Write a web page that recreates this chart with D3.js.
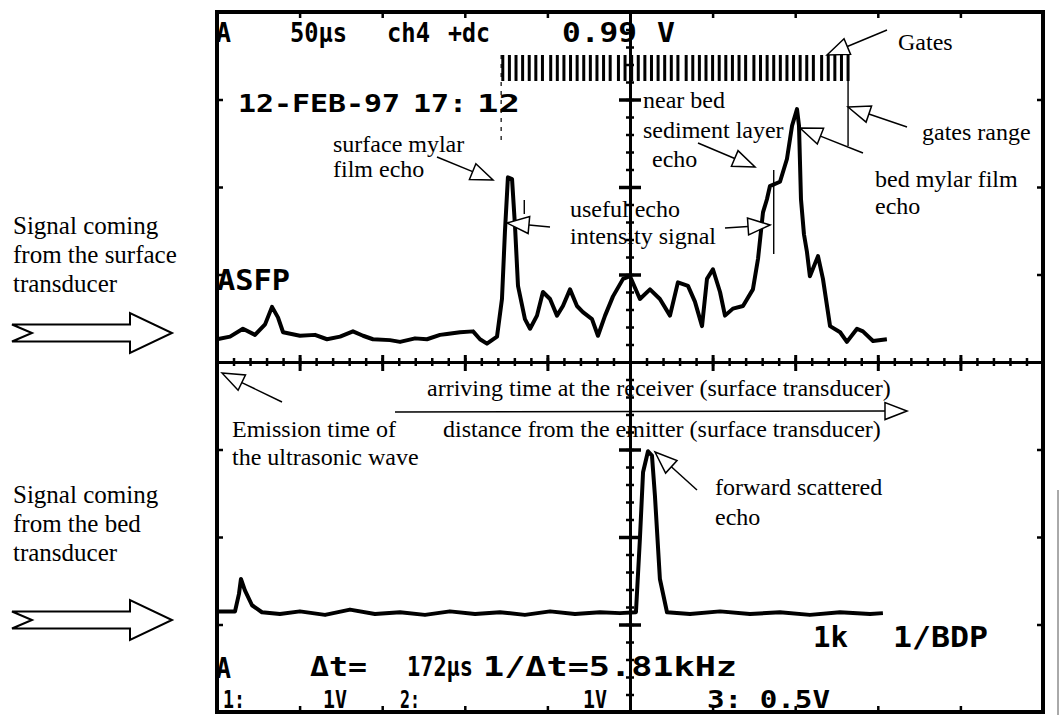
<!DOCTYPE html>
<html>
<head>
<meta charset="utf-8">
<script src="https://cdn.jsdelivr.net/npm/d3@7"></script>
<style>
  body { margin: 0; background: #fff; }
  svg { display: block; }
</style>
</head>
<body>
<svg id="scope" width="1060" height="715"></svg>
<script>
// ---- Screen: 10 horizontal divisions of 50 µs, 8 vertical divisions ----
const timeDomain = [0, 500];          // µs
const divDomain = [-4, 4];            // vertical divisions
const timePerDiv = 50;

// ---- Surface transducer trace (upper), time in µs, amplitude in divisions ----
const surfaceTime = [0, 7.9, 15.7, 23.0, 29.1, 33.3, 36.9, 40.0, 50.2, 59.3,
  66.6, 74.5, 82.3, 88.4, 94.4, 104.7, 110.8, 119.9, 127.1, 135.0,
  139.2, 147.1, 155.0, 159.2, 163.4, 169.5, 172.5, 174.3, 176.1, 178.6,
  180.4, 182.2, 186.4, 189.5, 193.7, 197.3, 201.6, 205.8, 209.4, 213.7,
  217.9, 221.5, 227.0, 230.6, 234.9, 239.7, 245.8, 250.0, 256.0, 262.1,
  268.1, 274.2, 279.0, 285.1, 289.3, 293.6, 296.6, 300.2, 304.5, 307.5,
  312.3, 318.4, 324.4, 327.5, 330.5, 332.9, 334.7, 340.8, 345.0, 348.1,
  351.1, 352.3, 353.5, 355.3, 357.1, 358.9, 363.8, 366.8, 371.1, 377.2,
  381.3, 387.4, 391.0, 397.1, 405.5];
const surfaceSignal = [0.26, 0.29, 0.38, 0.31, 0.43, 0.63, 0.51, 0.34, 0.30, 0.31,
  0.26, 0.29, 0.35, 0.30, 0.26, 0.25, 0.23, 0.27, 0.26, 0.31,
  0.32, 0.34, 0.35, 0.26, 0.21, 0.29, 0.72, 1.49, 2.11, 2.09,
  1.55, 0.87, 0.49, 0.38, 0.53, 0.80, 0.72, 0.53, 0.64, 0.83,
  0.64, 0.57, 0.49, 0.30, 0.53, 0.75, 0.95, 0.98, 0.72, 0.83,
  0.72, 0.53, 0.91, 0.87, 0.69, 0.41, 0.95, 1.06, 0.80, 0.53,
  0.61, 0.64, 0.83, 1.18, 1.71, 1.86, 2.01, 2.06, 2.32, 2.70,
  2.89, 2.70, 1.86, 1.46, 1.26, 0.98, 1.21, 0.95, 0.41, 0.34,
  0.23, 0.38, 0.35, 0.24, 0.26];

// ---- Bed transducer trace (lower) ----
const bedTime = [0, 10.9, 13.3, 14.5, 16.9, 21.2, 27.2, 38.1, 50.2, 65.4,
  80.5, 95.6, 110.8, 125.9, 141.0, 156.2, 171.3, 186.4, 201.6, 216.7,
  231.8, 243.9, 253.6, 256.0, 257.9, 260.9, 263.3, 265.1, 268.1, 272.4,
  286.3, 304.5, 322.6, 340.8, 358.9, 377.1, 395.3, 403.1];
const bedSignal = [-2.85, -2.85, -2.65, -2.48, -2.61, -2.78, -2.86, -2.88, -2.85, -2.89,
  -2.83, -2.88, -2.86, -2.89, -2.85, -2.88, -2.86, -2.89, -2.85, -2.88,
  -2.86, -2.87, -2.86, -2.02, -1.26, -1.02, -1.07, -1.53, -2.48, -2.86,
  -2.88, -2.85, -2.88, -2.86, -2.89, -2.86, -2.88, -2.87];

// ---- Gate positions (µs) and cursors ----
const gateTimes = [173, 177, 181, 185, 189, 193, 197, 202, 206, 210, 214, 218, 222,
  226, 230, 234, 238, 243, 247, 251, 255, 259, 263, 267, 271, 275, 279, 284,
  288, 292, 296, 300, 304, 308, 312, 316, 320, 325, 329, 333, 337, 341, 345,
  349, 353, 357, 361, 366, 370, 374, 378, 382];
const cursorTime = 172;        // Δt cursor
const gatesRangeEnd = 382;     // last gate
const usefulSignalEnd = 337;   // end of the useful echo window
const usefulSignalMark = 186;  // small mark after the surface echo

// ---- Scales ----
const x = d3.scaleLinear().domain(timeDomain).range([217, 1043]);
const y = d3.scaleLinear().domain(divDomain).range([712, 12]);

const divTimes = d3.range(timeDomain[0], timeDomain[1] + 1, timePerDiv);
const innerDivTimes = divTimes.filter(t => t > timeDomain[0] && t < timeDomain[1]);
const divLevels = d3.range(divDomain[0], divDomain[1] + 1, 1);
const innerDivLevels = divLevels.filter(v => v > divDomain[0] && v < divDomain[1]);
const minorTimes = x.ticks(50);
const minorLevels = y.ticks(40);

const svg = d3.select("#scope");
const INK = "#000";

// ---- Graticule: centre cross with minor and major ticks ----
const xMid = x((timeDomain[0] + timeDomain[1]) / 2);
const yMid = y(0);

function styleAxis(g, width, showDomain) {
  g.selectAll("text").remove();
  g.selectAll(".tick line").attr("stroke", INK).attr("stroke-width", width);
  g.select(".domain").attr("stroke", showDomain ? INK : "none").attr("stroke-width", 3);
}

const grat = svg.append("g");
// horizontal centre line
grat.append("g").attr("transform", `translate(0,${yMid})`)
  .call(d3.axisBottom(x).tickValues(minorTimes).tickSize(4).tickSizeOuter(0).tickFormat(""))
  .call(g => styleAxis(g, 2.5, true));
grat.append("g").attr("transform", `translate(0,${yMid})`)
  .call(d3.axisTop(x).tickValues(minorTimes).tickSize(4).tickSizeOuter(0).tickFormat(""))
  .call(g => styleAxis(g, 2.5, false));
grat.append("g").attr("transform", `translate(0,${yMid})`)
  .call(d3.axisBottom(x).tickValues(innerDivTimes).tickSize(9).tickSizeOuter(0).tickFormat(""))
  .call(g => styleAxis(g, 3, false));
grat.append("g").attr("transform", `translate(0,${yMid})`)
  .call(d3.axisTop(x).tickValues(innerDivTimes).tickSize(7).tickSizeOuter(0).tickFormat(""))
  .call(g => styleAxis(g, 3, false));
// vertical centre line
grat.append("g").attr("transform", `translate(${xMid},0)`)
  .call(d3.axisLeft(y).tickValues(minorLevels).tickSize(4).tickSizeOuter(0).tickFormat(""))
  .call(g => styleAxis(g, 2.5, true));
grat.append("g").attr("transform", `translate(${xMid},0)`)
  .call(d3.axisRight(y).tickValues(minorLevels).tickSize(4).tickSizeOuter(0).tickFormat(""))
  .call(g => styleAxis(g, 2.5, false));
grat.append("g").attr("transform", `translate(${xMid},0)`)
  .call(d3.axisLeft(y).tickValues(innerDivLevels.filter(v => v !== 0)).tickSize(11).tickSizeOuter(0).tickFormat(""))
  .call(g => styleAxis(g, 3.5, false));
grat.append("g").attr("transform", `translate(${xMid},0)`)
  .call(d3.axisRight(y).tickValues(innerDivLevels.filter(v => v !== 0)).tickSize(11).tickSizeOuter(0).tickFormat(""))
  .call(g => styleAxis(g, 3.5, false));

// frame ticks at each division
grat.append("g").attr("transform", `translate(0,${y(divDomain[1])})`)
  .call(d3.axisBottom(x).tickValues(innerDivTimes).tickSize(6).tickSizeOuter(0).tickFormat(""))
  .call(g => styleAxis(g, 2.5, false));
grat.append("g").attr("transform", `translate(0,${y(divDomain[0])})`)
  .call(d3.axisTop(x).tickValues(innerDivTimes).tickSize(6).tickSizeOuter(0).tickFormat(""))
  .call(g => styleAxis(g, 2.5, false));
grat.append("g").attr("transform", `translate(${x(timeDomain[0])},0)`)
  .call(d3.axisRight(y).tickValues(innerDivLevels).tickSize(6).tickSizeOuter(0).tickFormat(""))
  .call(g => styleAxis(g, 2.5, false));
grat.append("g").attr("transform", `translate(${x(timeDomain[1])},0)`)
  .call(d3.axisLeft(y).tickValues(innerDivLevels).tickSize(6).tickSizeOuter(0).tickFormat(""))
  .call(g => styleAxis(g, 2.5, false));

// ---- Oscilloscope read-out text ----
const scopeFont = "'DejaVu Sans Mono', 'Liberation Mono', monospace";
const readout = [
  { s: "A", x: 216, y: 42, w: 15, fs: 27 },
  { s: "50µs", x: 290, y: 42, w: 57, fs: 27 },
  { s: "ch4", x: 387, y: 42, w: 43, fs: 27 },
  { s: "+dc", x: 448, y: 42, w: 42, fs: 27 },
  { s: "0.99", x: 562, y: 42, w: 75, fs: 27 },
  { s: "V", x: 657, y: 42, w: 18, fs: 27 },
  { s: "12-FEB-97", x: 238, y: 112, w: 162, fs: 25 },
  { s: "17:", x: 413, y: 112, w: 54, fs: 25 },
  { s: "12", x: 477, y: 112, w: 43, fs: 25 },
  { s: "ASFP", x: 217, y: 290, w: 73, fs: 29 },
  { s: "1k", x: 813, y: 647, w: 35, fs: 29 },
  { s: "1/BDP", x: 893, y: 647, w: 95, fs: 29 },
  { s: "A", x: 216, y: 678, w: 15, fs: 28 },
  { s: "Δt=", x: 310, y: 676, w: 57, fs: 27 },
  { s: "172µs", x: 407, y: 676, w: 66, fs: 27 },
  { s: "1/Δt=5.81kHz", x: 483, y: 676, w: 254, fs: 27 },
  { s: "1:", x: 223, y: 708, w: 22, fs: 24 },
  { s: "1V", x: 323, y: 708, w: 24, fs: 24 },
  { s: "2:", x: 400, y: 708, w: 20, fs: 24 },
  { s: "1V", x: 583, y: 708, w: 24, fs: 24 },
  { s: "3: 0.5V", x: 707, y: 708, w: 123, fs: 24 }
];
svg.append("g").selectAll("text").data(readout).join("text")
  .attr("x", d => d.x).attr("y", d => d.y)
  .attr("textLength", d => d.w).attr("lengthAdjust", "spacingAndGlyphs")
  .attr("font-family", scopeFont).attr("font-weight", "bold")
  .attr("font-size", d => d.fs).attr("fill", INK)
  .text(d => d.s);

// ---- Gates and cursors ----
const gateTop = 55, gateBottom = 81;
svg.append("g").selectAll("rect").data(gateTimes).join("rect")
  .attr("x", t => x(t) - 1.5).attr("y", gateTop)
  .attr("width", 3).attr("height", gateBottom - gateTop)
  .attr("fill", INK);

svg.append("line")
  .attr("x1", x(cursorTime)).attr("x2", x(cursorTime))
  .attr("y1", gateTop).attr("y2", 142)
  .attr("stroke", INK).attr("stroke-width", 1.2).attr("stroke-dasharray", "4,5");
svg.append("line")
  .attr("x1", x(gatesRangeEnd)).attr("x2", x(gatesRangeEnd))
  .attr("y1", gateTop).attr("y2", 146)
  .attr("stroke", INK).attr("stroke-width", 1.4);
svg.append("line")
  .attr("x1", x(usefulSignalEnd)).attr("x2", x(usefulSignalEnd))
  .attr("y1", 170).attr("y2", 254)
  .attr("stroke", INK).attr("stroke-width", 1.4);
svg.append("line")
  .attr("x1", x(usefulSignalMark)).attr("x2", x(usefulSignalMark))
  .attr("y1", 200).attr("y2", 214)
  .attr("stroke", INK).attr("stroke-width", 1.4);

// ---- Traces ----
const line = d3.line().x(d => x(d[0])).y(d => y(d[1]));
const surfaceData = d3.zip(surfaceTime, surfaceSignal);
const bedData = d3.zip(bedTime, bedSignal);

svg.append("path").datum(surfaceData).attr("d", line)
  .attr("fill", "none").attr("stroke", INK).attr("stroke-width", 4)
  .attr("stroke-linejoin", "round");
svg.append("path").datum(bedData).attr("d", line)
  .attr("fill", "none").attr("stroke", INK).attr("stroke-width", 4)
  .attr("stroke-linejoin", "round");

// ---- Screen frame ----
svg.append("rect")
  .attr("x", x(timeDomain[0])).attr("y", y(divDomain[1]))
  .attr("width", x(timeDomain[1]) - x(timeDomain[0]))
  .attr("height", y(divDomain[0]) - y(divDomain[1]))
  .attr("fill", "none").attr("stroke", INK).attr("stroke-width", 4);
svg.append("line").attr("x1", 1058).attr("x2", 1058).attr("y1", 490).attr("y2", 715)
  .attr("stroke", "#555").attr("stroke-width", 1);

// ---- Annotations ----
const serif = "'Liberation Serif', 'Times New Roman', serif";
const notes = [
  { s: "Gates", x: 898, y: 50 },
  { s: "gates range", x: 922, y: 140 },
  { s: "near bed", x: 643, y: 108 },
  { s: "sediment layer", x: 643, y: 138 },
  { s: "echo", x: 652, y: 167 },
  { s: "bed mylar film", x: 875, y: 187 },
  { s: "echo", x: 875, y: 214 },
  { s: "surface mylar", x: 333, y: 152 },
  { s: "film echo", x: 333, y: 177 },
  { s: "useful echo", x: 570, y: 217 },
  { s: "intensity signal", x: 570, y: 244 },
  { s: "arriving time at the receiver (surface transducer)", x: 427, y: 396 },
  { s: "Emission time of", x: 232, y: 437 },
  { s: "the ultrasonic wave", x: 232, y: 465 },
  { s: "distance from the emitter (surface transducer)", x: 443, y: 437 },
  { s: "forward scattered", x: 715, y: 495 },
  { s: "echo", x: 715, y: 525 }
];
svg.append("g").selectAll("text").data(notes).join("text")
  .attr("x", d => d.x).attr("y", d => d.y)
  .attr("font-family", serif).attr("font-size", 24).attr("fill", INK)
  .text(d => d.s);

const sideNotes = [
  { s: "Signal coming", x: 13, y: 234 },
  { s: "from the surface", x: 13, y: 263 },
  { s: "transducer", x: 13, y: 292 },
  { s: "Signal coming", x: 13, y: 503 },
  { s: "from the bed", x: 13, y: 532 },
  { s: "transducer", x: 13, y: 561 }
];
svg.append("g").selectAll("text").data(sideNotes).join("text")
  .attr("x", d => d.x).attr("y", d => d.y)
  .attr("font-family", serif).attr("font-size", 25).attr("fill", INK)
  .text(d => d.s);

// thin pointer lines ending in hollow arrowheads
const pointers = [
  [887, 30, 827, 55],
  [907, 127, 848, 107],
  [698, 143, 755, 167],
  [863, 153, 800, 128],
  [437, 157, 493, 180],
  [550, 227, 507, 223],
  [725, 228, 770, 225],
  [395, 412, 907, 411],
  [282, 402, 222, 373],
  [697, 490, 655, 452]
];
const ptr = svg.append("g");
pointers.forEach(([x1, y1, x2, y2]) => {
  const len = 22, half = 8.5;
  const dx = x2 - x1, dy = y2 - y1, L = Math.hypot(dx, dy);
  const ux = dx / L, uy = dy / L, nx = -uy, ny = ux;
  const bx = x2 - ux * len, by = y2 - uy * len;
  ptr.append("line").attr("x1", x1).attr("y1", y1).attr("x2", bx).attr("y2", by)
    .attr("stroke", INK).attr("stroke-width", 1.5);
  ptr.append("path")
    .attr("d", `M${x2},${y2}L${bx + nx * half},${by + ny * half}L${bx - nx * half},${by - ny * half}Z`)
    .attr("fill", "#fff").attr("stroke", INK).attr("stroke-width", 1.5)
    .attr("stroke-linejoin", "miter");
});

// large hollow arrows pointing at each trace
function bigArrow(cy) {
  const x0 = 12, notch = 20, headX = 130, tip = 172, shaft = 8.5, head = 20;
  svg.append("path")
    .attr("d", `M${x0},${cy - shaft}L${headX},${cy - shaft}L${headX},${cy - head}` +
      `L${tip},${cy}L${headX},${cy + head}L${headX},${cy + shaft}L${x0},${cy + shaft}` +
      `L${x0 + notch},${cy}Z`)
    .attr("fill", "#fff").attr("stroke", INK).attr("stroke-width", 2)
    .attr("stroke-linejoin", "miter");
}
bigArrow(333);
bigArrow(620);
</script>
</body>
</html>
